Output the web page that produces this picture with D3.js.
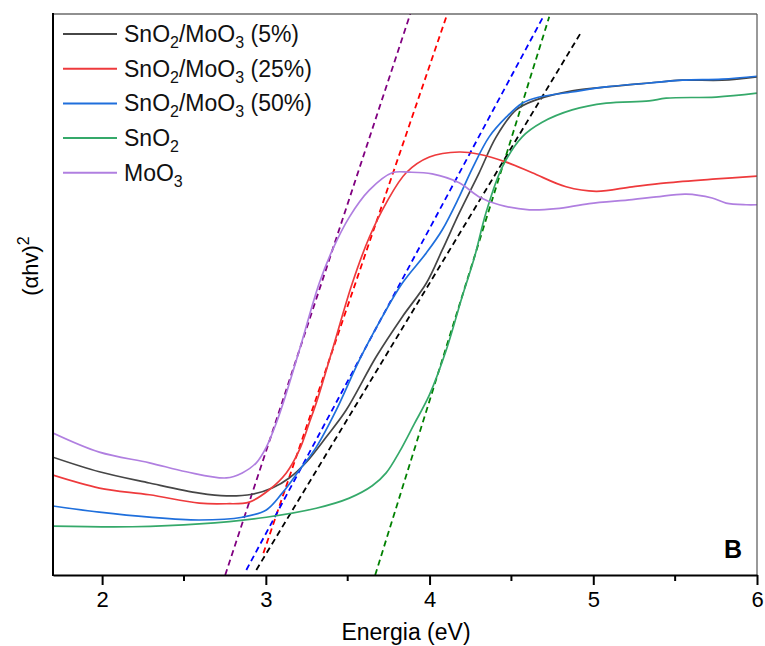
<!DOCTYPE html>
<html>
<head>
<meta charset="utf-8">
<script src="https://cdn.jsdelivr.net/npm/d3@7"></script>
<style>
  body { margin: 0; background: #fff; }
  svg { font-family: "Liberation Sans", Arial, sans-serif; }
</style>
</head>
<body>
<div id="chart"></div>
<script>
// Tauc plot data (energy in eV, (ahv)^2 in arbitrary units)
const xTicks = [2, 3, 4, 5, 6];
const xMinorTicks = [2.5, 3.5, 4.5, 5.5];

const seriesNames = ['SnO2/MoO3 (5%)', 'SnO2/MoO3 (25%)', 'SnO2/MoO3 (50%)', 'SnO2', 'MoO3'];
const seriesColors = ['#464646', '#ee3a3c', '#1f6fdc', '#35a96a', '#b07fe0'];

const mix5 = [[1.70,21.0],[1.983,18.4],[2.289,16.4],[2.594,14.6],[2.759,14.1],[2.917,14.4],[3.039,15.5],[3.143,17.3],[3.247,20.1],[3.369,24.6],[3.491,29.4],[3.674,38.9],[3.833,46.0],[3.980,52.0],[4.077,57.9],[4.181,64.5],[4.303,71.7],[4.407,78.1],[4.529,82.9],[4.651,84.7],[4.871,86.3],[5.079,87.0],[5.341,87.7],[5.543,88.2],[5.787,88.2],[6.0,88.8]];
const mix25 = [[1.70,17.8],[1.983,15.5],[2.289,14.3],[2.594,12.8],[2.759,12.7],[2.899,13.0],[3.021,15.2],[3.125,18.2],[3.205,22.3],[3.265,27.1],[3.314,31.2],[3.406,40.1],[3.528,52.0],[3.632,60.2],[3.735,66.3],[3.857,71.7],[3.999,74.5],[4.181,75.4],[4.303,75.0],[4.468,73.6],[4.627,71.7],[4.834,69.2],[5.018,68.4],[5.237,69.2],[5.445,69.9],[5.750,70.6],[6.0,71.1]];
const mix50 = [[1.70,12.3],[1.983,11.2],[2.289,10.3],[2.594,9.8],[2.856,10.3],[3.003,11.6],[3.100,14.6],[3.205,18.7],[3.308,22.8],[3.430,29.4],[3.571,38.3],[3.711,46.0],[3.833,52.0],[3.980,57.4],[4.077,61.5],[4.181,67.4],[4.260,72.4],[4.364,78.1],[4.468,81.6],[4.566,84.1],[4.670,85.2],[4.871,86.1],[5.079,87.0],[5.341,87.7],[5.543,88.2],[5.787,88.4],[6.0,88.9]];
const sno2 = [[1.70,8.7],[2.185,8.6],[2.594,9.1],[3.003,10.3],[3.308,11.9],[3.510,13.7],[3.650,15.9],[3.735,18.2],[3.815,21.9],[3.906,26.9],[3.999,32.1],[4.102,40.1],[4.199,49.6],[4.273,56.5],[4.346,64.7],[4.444,72.7],[4.566,78.1],[4.688,80.7],[4.871,82.9],[5.079,84.1],[5.341,84.5],[5.445,85.0],[5.750,85.2],[6.0,85.9]];
const moo3 = [[1.70,25.3],[1.983,21.9],[2.289,20.0],[2.514,18.4],[2.759,17.3],[2.856,18.2],[2.942,20.0],[3.003,22.8],[3.064,27.1],[3.112,31.2],[3.205,40.1],[3.326,52.0],[3.406,57.9],[3.510,63.8],[3.632,68.6],[3.772,71.7],[3.876,71.8],[4.016,71.5],[4.181,69.9],[4.303,67.4],[4.425,66.0],[4.609,65.1],[4.774,65.3],[4.975,66.2],[5.237,66.9],[5.384,67.4],[5.567,67.9],[5.726,67.2],[5.811,66.3],[5.933,66.0],[6.0,66.0]];

// linear fits (x0, y0, x1, y1)
const fitColors = ['#000000', '#ff0000', '#0000ff', '#008000', '#800080'];
const fitLines = [
  [2.942, 0.9, 4.927, 96.8],
  [2.985, 3.9, 4.108, 100],
  [2.881, 0.9, 4.694, 99.5],
  [3.668, 0, 4.731, 99.5],
  [2.752, 0, 3.882, 100]
];

const allSeries = [mix5, mix25, mix50, sno2, moo3];

const W = 765, H = 646;
const margin = { top: 14, right: 8, bottom: 71, left: 53 };

const svg = d3.select('#chart').append('svg')
  .attr('width', W)
  .attr('height', H);

const x = d3.scaleLinear().domain([1.7, 6]).range([margin.left, W - margin.right]);
const y = d3.scaleLinear().domain([0, 100]).range([H - margin.bottom, margin.top]);

svg.append('clipPath').attr('id', 'clip')
  .append('rect')
  .attr('x', margin.left).attr('y', margin.top)
  .attr('width', x(6) - x(1.7)).attr('height', y(0) - y(100));

const plot = svg.append('g').attr('clip-path', 'url(#clip)');

const line = d3.line()
  .x(d => x(d[0]))
  .y(d => y(d[1]))
  .curve(d3.curveCatmullRom.alpha(0.5));

// fitted dashed lines
fitLines.forEach((f, i) => {
  plot.append('line')
    .attr('x1', x(f[0])).attr('y1', y(f[1]))
    .attr('x2', x(f[2])).attr('y2', y(f[3]))
    .attr('stroke', fitColors[i])
    .attr('stroke-width', 1.8)
    .attr('stroke-dasharray', '6,4');
});

// spectra
allSeries.forEach((s, i) => {
  plot.append('path')
    .datum(s)
    .attr('fill', 'none')
    .attr('stroke', seriesColors[i])
    .attr('stroke-width', 1.7)
    .attr('d', line);
});

// frame
svg.append('line')
  .attr('x1', margin.left).attr('x2', x(6))
  .attr('y1', y(100)).attr('y2', y(100))
  .attr('stroke', '#222').attr('stroke-width', 1.2);
svg.append('line')
  .attr('x1', x(6)).attr('x2', x(6))
  .attr('y1', y(100)).attr('y2', y(0))
  .attr('stroke', '#555').attr('stroke-width', 1.2);

// x axis
const xAxis = svg.append('g')
  .attr('transform', `translate(0,${y(0)})`)
  .call(d3.axisBottom(x).tickValues(xTicks).tickFormat(d3.format('d'))
    .tickSize(10).tickSizeOuter(0).tickPadding(6));
xAxis.select('.domain').attr('stroke', '#000').attr('stroke-width', 2);
xAxis.selectAll('.tick line').attr('stroke', '#000').attr('stroke-width', 2);
xAxis.selectAll('.tick text').attr('font-size', 22).attr('fill', '#000')
  .attr('font-family', '"Liberation Sans", Arial, sans-serif');

svg.append('g')
  .attr('transform', `translate(0,${y(0)})`)
  .selectAll('line')
  .data(xMinorTicks)
  .enter()
  .append('line')
  .attr('x1', d => x(d)).attr('x2', d => x(d))
  .attr('y1', 0).attr('y2', 6)
  .attr('stroke', '#000').attr('stroke-width', 2);

// y axis (no ticks)
svg.append('line')
  .attr('x1', margin.left).attr('x2', margin.left)
  .attr('y1', y(100) - 1).attr('y2', y(0) + 1)
  .attr('stroke', '#000').attr('stroke-width', 2);

// axis titles
svg.append('text')
  .attr('x', 406)
  .attr('y', 640)
  .attr('text-anchor', 'middle')
  .attr('font-size', 23)
  .text('Energia (eV)');

const yLabel = svg.append('text')
  .attr('transform', 'translate(38,266) rotate(-90)')
  .attr('text-anchor', 'middle')
  .attr('font-size', 22);
yLabel.append('tspan').text('(αhv)');
yLabel.append('tspan').attr('font-size', 16).attr('dy', -9).text('2');

// panel letter
svg.append('text')
  .attr('x', 742).attr('y', 558)
  .attr('text-anchor', 'end')
  .attr('font-size', 25)
  .attr('font-weight', 'bold')
  .text('B');

// legend
const legendRows = [
  [['SnO', 0], ['2', 1], ['/MoO', 0], ['3', 1], [' (5%)', 0]],
  [['SnO', 0], ['2', 1], ['/MoO', 0], ['3', 1], [' (25%)', 0]],
  [['SnO', 0], ['2', 1], ['/MoO', 0], ['3', 1], [' (50%)', 0]],
  [['SnO', 0], ['2', 1]],
  [['MoO', 0], ['3', 1]]
];

const legend = svg.append('g').attr('transform', 'translate(63,34)');
legendRows.forEach((parts, i) => {
  const row = legend.append('g').attr('transform', `translate(0,${i * 34.7})`);
  row.append('line')
    .attr('x1', 0).attr('x2', 54)
    .attr('y1', 0).attr('y2', 0)
    .attr('stroke', seriesColors[i])
    .attr('stroke-width', 2);
  const t = row.append('text')
    .attr('x', 61).attr('y', 8)
    .attr('font-size', 23)
    .attr('fill', '#111');
  let sub = false;
  parts.forEach(([txt, isSub]) => {
    const ts = t.append('tspan').text(txt);
    if (isSub && !sub) { ts.attr('font-size', 16).attr('dy', 6); sub = true; }
    else if (!isSub && sub) { ts.attr('dy', -6); sub = false; }
  });
});
</script>
</body>
</html>
